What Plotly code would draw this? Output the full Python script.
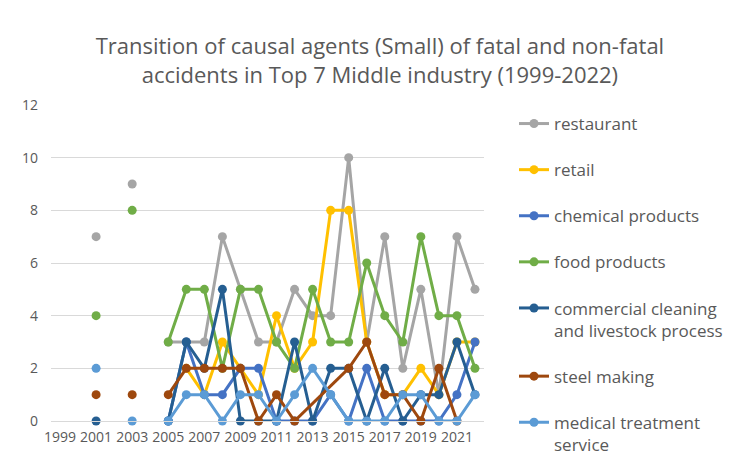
import plotly.graph_objects as go

years = list(range(1999, 2023))
N = None
# values per year 1999..2022 (None = no data)
restaurant = [N, N, 7, N, 9, N, 3, 3, 3, 7, 5, 3, 3, 5, 4, 4, 10, 3, 7, 2, 5, 1, 7, 5]
retail     = [N, N, N, N, N, N, N, 2, 1, 3, 2, 1, 4, 2, 3, 8, 8, 3, 1, 1, 2, 1, 3, 3]
chemical   = [N, N, N, N, N, N, 0, 3, 1, 1, 2, 2, 0, 0, 0, 1, 0, 2, 0, 0, 0, 0, 1, 3]
food       = [N, N, 4, N, 8, N, 3, 5, 5, 2, 5, 5, 3, 2, 5, 3, 3, 6, 4, 3, 7, 4, 4, 2]
cleaning   = [N, N, 0, N, N, N, 0, 3, 2, 5, 0, 0, 0, 3, 0, 2, 2, 0, 2, 0, 1, 1, 3, 1]
steel      = [N, N, 1, N, 1, N, 1, 2, 2, 2, 2, 0, 1, 0, N, N, 2, 3, 1, 1, 0, 2, 0, N]
medical    = [N, N, 2, N, 0, N, 0, 1, 1, 0, 1, 1, 0, 1, 2, 1, 0, 0, 0, 1, 1, 0, 0, 1]

names = ["restaurant", "retail", "chemical products", "food products",
         "commercial cleaning<br>and livestock process", "steel making",
         "medical treatment<br>service"]
colors = ["#A5A5A5", "#FFC000", "#4472C4", "#70AD47", "#255E91", "#9E480E", "#5B9BD5"]
series = [restaurant, retail, chemical, food, cleaning, steel, medical]
xticks = list(range(1999, 2022, 2))

fig = go.Figure()
for i, (nm, col, vals) in enumerate(zip(names, colors, series)):
    fig.add_trace(go.Scatter(
        x=years, y=vals, name=nm, mode="lines+markers",
        line=dict(color=col, width=3), marker=dict(color=col, size=9),
        connectgaps=False, cliponaxis=False, legendgroup=str(i)))
    if nm == "steel making":
        # steel making: line continues across the empty 2013-2014 cells
        i0, i1 = years.index(2012), years.index(2015) + 1
        fig.add_trace(go.Scatter(
            x=years[i0:i1], y=vals[i0:i1], mode="lines", connectgaps=True,
            line=dict(color=col, width=3), showlegend=False, hoverinfo="skip",
            cliponaxis=False, legendgroup=str(i)))

# page has an 8px body margin, so the figure is laid out in shifted coordinates
L, R, T, B = 43, 476, 97, 413
W, H = 735, 451
fig.update_layout(
    width=W, height=H,
    margin=dict(l=L, r=W - R, t=T, b=H - B, pad=0, autoexpand=False),
    paper_bgcolor="white", plot_bgcolor="white",
    font=dict(family="Open Sans, sans-serif", color="#595959"),
    title=dict(text="Transition of causal agents (Small) of fatal and non-fatal<br>accidents in Top 7 Middle industry (1999-2022)",
               x=0.506, xanchor="center", y=0.897, yanchor="middle",
               font=dict(size=22, color="#595959")),
    showlegend=True,
    legend=dict(xref="container", yref="container",
                x=506 / W, xanchor="left", y=(H - 98) / H, yanchor="top",
                font=dict(size=17, color="#595959"), tracegroupgap=21, valign="top",
                bgcolor="rgba(0,0,0,0)", maxheight=420),
)
fig.update_xaxes(range=[1998.5, 2022.5], tickvals=xticks, ticktext=[str(v) for v in xticks],
                 showgrid=False, zeroline=False, showline=True, linecolor="#D9D9D9",
                 ticks="", ticklabelstandoff=3, tickfont=dict(size=14, color="#595959"),
                 fixedrange=True)
fig.update_yaxes(range=[0, 12], dtick=2, tick0=0, showgrid=True, gridcolor="#D9D9D9",
                 gridwidth=1, zeroline=False, showline=False, ticks="",
                 ticklabelstandoff=12, tickfont=dict(size=14, color="#595959"))

fig.write_html("out.html")
